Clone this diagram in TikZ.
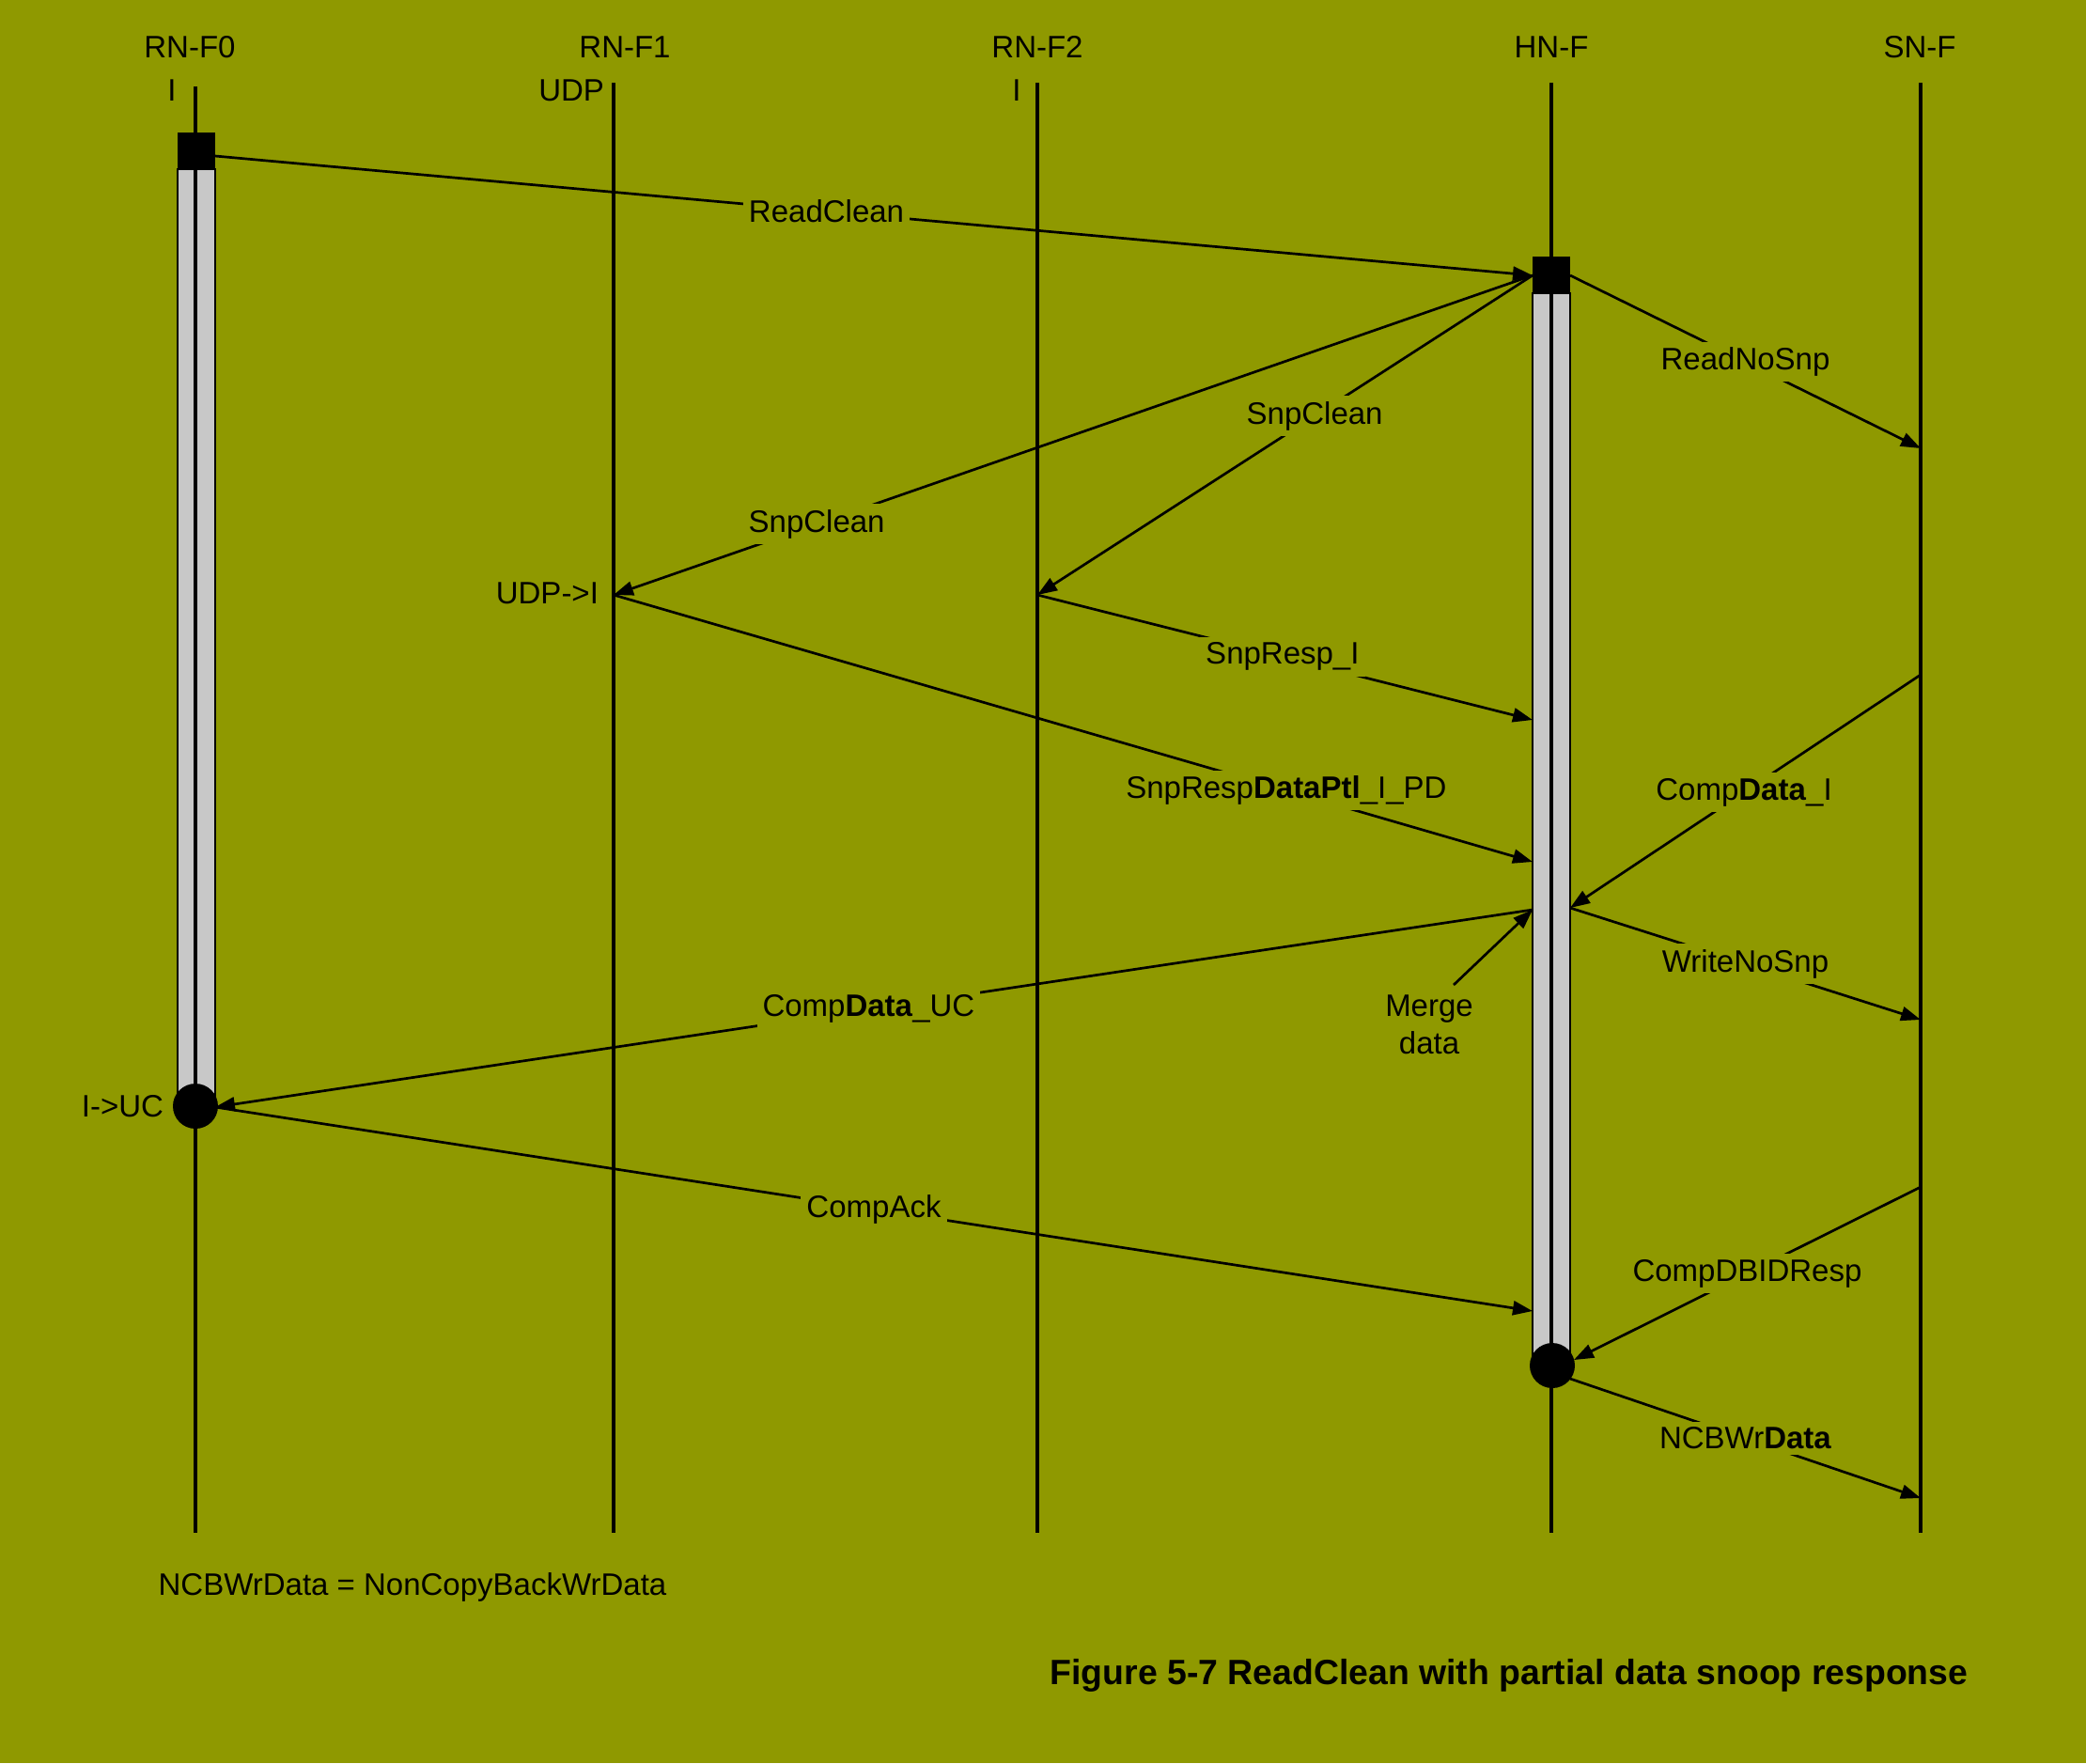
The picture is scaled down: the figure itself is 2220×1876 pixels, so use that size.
\documentclass[tikz,border=0pt]{standalone}
\usepackage{fontspec}
\setmainfont{Liberation Sans}
\usetikzlibrary{arrows.meta}
\definecolor{bg}{RGB}{143,153,0}
\definecolor{bargrey}{RGB}{200,200,200}
\begin{document}
\begin{tikzpicture}[x=0.5pt,y=-0.5pt,
  every node/.style={font=\fontsize{16.5}{20}\selectfont, text=black},
  msg/.style={line width=1.35pt, -{Triangle[length=10.5pt,width=7.5pt]}},
  lbl/.style={fill=bg, inner sep=3pt},
  life/.style={line width=2pt},
  bar/.style={fill=bargrey, draw=black, line width=0.6pt},
  capfont/.style={font=\fontsize{18.7}{22}\selectfont\bfseries}]
\fill[bg] (0,0) rectangle (2220,1876);
\useasboundingbox (0,0) rectangle (2220,1876);

% lifeline ends
\coordinate (f0top) at (208,92);  \coordinate (f0bot) at (208,1631);
\coordinate (f1top) at (653,88);  \coordinate (f1bot) at (653,1631);
\coordinate (f2top) at (1104,88); \coordinate (f2bot) at (1104,1631);
\coordinate (hntop) at (1651,88); \coordinate (hnbot) at (1651,1631);
\coordinate (sntop) at (2044,88); \coordinate (snbot) at (2044,1631);

% titles
\node (t0) at (202,50) {RN-F0};
\node (t1) at (665,50) {RN-F1};
\node (t2) at (1104,50) {RN-F2};
\node (th) at (1651,50) {HN-F};
\node (ts) at (2043,50) {SN-F};
\node (s0) at (183,96) {I};
\node[anchor=east] (s1) at (650,96) {UDP};
\node (s2) at (1082,96) {I};

% activation bars
\draw[bar] (189,180) rectangle (229,1176);
\draw[bar] (1631,312) rectangle (1671,1453);

% lifelines
\draw[life] (f0top) -- (f0bot);
\draw[life] (f1top) -- (f1bot);
\draw[life] (f2top) -- (f2bot);
\draw[life] (hntop) -- (hnbot);
\draw[life] (sntop) -- (snbot);

% start squares and end circles
\fill[black] (189,141) rectangle (229,180);
\fill[black] (1631,273) rectangle (1671,312);
\fill[black] (208,1177) circle (24);
\fill[black] (1652,1453) circle (24);

% event points
\coordinate (a0) at (229,166);
\coordinate (hL1) at (1631,293);
\coordinate (hR1) at (1671,293);
\coordinate (sn1) at (2044,477);
\coordinate (f1e) at (653,633);
\coordinate (f2e) at (1104,633);
\coordinate (hL2) at (1631,766);
\coordinate (hL3) at (1631,917);
\coordinate (sn2) at (2044,718);
\coordinate (hR3) at (1671,966);
\coordinate (hL4) at (1631,968);
\coordinate (c0) at (229,1178);
\coordinate (sn3) at (2044,1085);
\coordinate (hL5) at (1631,1395);
\coordinate (sn4) at (2044,1263);
\coordinate (hR5) at (1675,1447);
\coordinate (hR6) at (1671,1467);
\coordinate (sn5) at (2044,1594);
\coordinate (mg) at (1547,1048);

% messages
\draw[msg] (a0) -- node[lbl,pos=0.464] {ReadClean} (hL1);
\draw[msg] (hR1) -- node[lbl,pos=0.5] {ReadNoSnp} (sn1);
\draw[msg] (hL1) -- node[lbl,pos=0.779] {SnpClean} (f1e);
\draw[msg] (hL1) -- node[lbl,pos=0.44] {SnpClean} (f2e);
\draw[msg] (f2e) -- node[lbl,pos=0.495] {SnpResp\_I} (hL2);
\draw[msg] (f1e) -- node[lbl,pos=0.732] {SnpResp\textbf{DataPtl}\_I\_PD} (hL3);
\draw[msg] (sn2) -- node[lbl,pos=0.504] {Comp\textbf{Data}\_I} (hR3);
\draw[msg] (hL4) -- node[lbl,pos=0.504] {Comp\textbf{Data}\_UC} (c0);
\draw[msg] (hR3) -- node[lbl,pos=0.5] {WriteNoSnp} (sn3);
\draw[msg] (c0) -- node[lbl,pos=0.5] {CompAck} (hL5);
\draw[msg] (sn4) -- node[lbl,pos=0.5] {CompDBIDResp} (hR5);
\draw[msg] (hR6) -- node[lbl,pos=0.5] {NCBWr\textbf{Data}} (sn5);

% merge data
\node[align=center] (merge) at (1521,1090) {Merge\\data};
\draw[msg] (mg) -- (hL4);

% state labels
\node[anchor=east] (u1) at (644,631) {UDP->I};
\node[anchor=east] (u0) at (181,1177) {I->UC};

% notes
\node (note) at (439,1689) {NCBWrData = NonCopyBackWrData};
\node[capfont] (cap) at (1606,1783) {Figure 5-7 ReadClean with partial data snoop response};
\end{tikzpicture}
\end{document}
